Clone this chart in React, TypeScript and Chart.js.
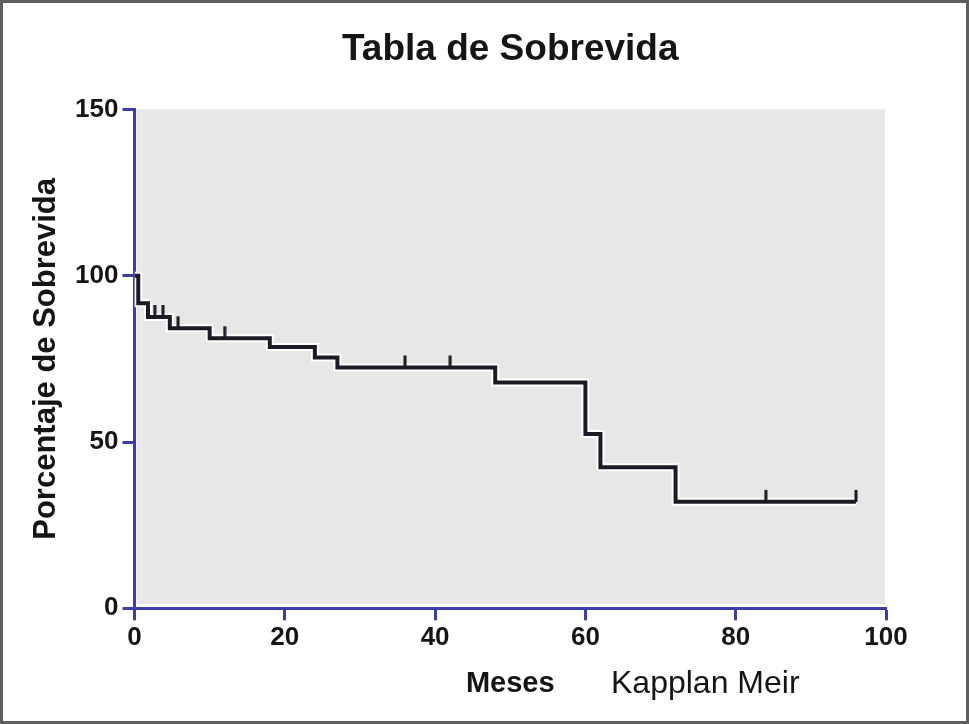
import React, { useEffect, useRef } from 'react';
import { Chart, registerables } from 'chart.js';

Chart.register(...registerables);

// ---- Data ----
const months = [0, 0.5, 1.8, 4.7, 10, 18, 24, 27, 48, 60, 62, 72, 96];
const survival = [100, 91.7, 87.6, 84.2, 81.2, 78.6, 75.4, 72.4, 67.9, 52.4, 42.4, 32.0, 32.0];
const censorMonths = [2.7, 3.8, 5.8, 12, 36, 42, 84, 96];
const censorSurvival = [87.6, 87.6, 84.2, 81.2, 72.4, 72.4, 32.0, 32.0];
const xTickValues = [0, 20, 40, 60, 80, 100];
const yTickValues = [0, 50, 100, 150];

const chartTitle = 'Tabla de Sobrevida';
const yTitle = 'Porcentaje de Sobrevida';
const xTitle = 'Meses';
const noteText = 'Kapplan Meir';

const LINE_COLOR = '#1b1b27';
const AXIS_COLOR = '#3c3cac';
const BG_COLOR = '#e7e7e7';
const TEXT_COLOR = '#151515';
const FONT = '"Liberation Sans", Arial, sans-serif';

function makeCensorMark(): HTMLCanvasElement {
  const c = document.createElement('canvas');
  c.width = 4;
  c.height = 26;
  const g = c.getContext('2d')!;
  g.fillStyle = LINE_COLOR;
  g.fillRect(0.5, 1, 3, 12);
  return c;
}

const plotBackground = {
  id: 'plotBackground',
  beforeDraw(chart: any) {
    const { ctx, chartArea } = chart;
    ctx.save();
    ctx.fillStyle = BG_COLOR;
    ctx.fillRect(chartArea.left + 2, chartArea.top, chartArea.right - chartArea.left - 3, chartArea.bottom - chartArea.top - 4);
    ctx.restore();
  },
};

const noteLabel = {
  id: 'noteLabel',
  afterDraw(chart: any) {
    const { ctx } = chart;
    ctx.save();
    ctx.font = `32px ${FONT}`;
    ctx.fillStyle = TEXT_COLOR;
    ctx.textBaseline = 'alphabetic';
    ctx.textAlign = 'left';
    ctx.fillText(noteText, 611, 693);
    ctx.restore();
  },
};

export default function App() {
  const canvasRef = useRef<HTMLCanvasElement | null>(null);

  useEffect(() => {
    if (!canvasRef.current) return;
    const mark = makeCensorMark();
    const stepData = months.map((m, i) => ({ x: m, y: survival[i] }));
    const censorData = censorMonths.map((m, i) => ({ x: m, y: censorSurvival[i] }));

    const chart = new Chart(canvasRef.current, {
      type: 'line',
      data: {
        datasets: [
          {
            label: 'halo',
            data: stepData,
            stepped: 'before',
            borderColor: '#ffffff',
            borderWidth: 8,
            pointRadius: 0,
            fill: false,
            order: 3,
          },
          {
            label: 'Sobrevida',
            data: stepData,
            stepped: 'before',
            borderColor: LINE_COLOR,
            borderWidth: 4,
            pointRadius: 0,
            fill: false,
            order: 2,
          },
          {
            label: 'Censurados',
            type: 'scatter',
            data: censorData,
            pointStyle: mark as any,
            pointRadius: 6,
            showLine: false,
            order: 1,
          } as any,
        ],
      },
      options: {
        responsive: false,
        animation: false,
        events: [],
        layout: { padding: { left: 0, right: 83, top: 0, bottom: 0 } },
        plugins: {
          legend: { display: false },
          tooltip: { enabled: false },
          title: {
            display: true,
            text: chartTitle,
            fullSize: false,
            color: TEXT_COLOR,
            font: { family: FONT, size: 37, weight: 'bold', lineHeight: 1.2 },
            padding: { top: 28, bottom: 37 },
          },
        },
        scales: {
          x: {
            type: 'linear',
            min: 0,
            max: 100,
            afterBuildTicks(scale: any) {
              scale.ticks = xTickValues.map((v) => ({ value: v }));
            },
            afterFit(scale: any) {
              scale.height = 115.7;
              scale.paddingLeft = 0;
              scale.paddingRight = 0;
            },
            border: { display: true, color: AXIS_COLOR, width: 3 },
            grid: {
              drawOnChartArea: false,
              drawTicks: true,
              tickLength: 12,
              tickWidth: 3,
              tickColor: AXIS_COLOR,
              color: AXIS_COLOR,
            },
            ticks: {
              color: TEXT_COLOR,
              padding: 2,
              maxRotation: 0,
              font: { family: FONT, size: 26, weight: 'bold' },
            },
            title: {
              display: true,
              text: xTitle,
              color: TEXT_COLOR,
              font: { family: FONT, size: 29, weight: 'bold', lineHeight: 1.2 },
              padding: { top: 0, bottom: 23 },
            },
          },
          y: {
            type: 'linear',
            min: 0,
            max: 150,
            afterBuildTicks(scale: any) {
              scale.ticks = yTickValues.map((v) => ({ value: v }));
            },
            afterFit(scale: any) {
              scale.width = 134.5;
              scale.paddingTop = 0;
              scale.paddingBottom = 0;
            },
            border: { display: true, color: AXIS_COLOR, width: 3 },
            grid: {
              drawOnChartArea: false,
              drawTicks: true,
              tickLength: 12,
              tickWidth: 3,
              tickColor: AXIS_COLOR,
              color: AXIS_COLOR,
            },
            ticks: {
              color: TEXT_COLOR,
              padding: 4,
              font: { family: FONT, size: 26, weight: 'bold' },
            },
            title: {
              display: true,
              text: yTitle,
              color: TEXT_COLOR,
              font: { family: FONT, size: 31, weight: 'bold', lineHeight: 1.2 },
              padding: { top: 28, bottom: 0 },
            },
          },
        },
      },
      plugins: [plotBackground, noteLabel],
    } as any);

    return () => chart.destroy();
  }, []);

  return (
    <div style={{ position: 'fixed', left: 0, top: 0, width: 969, height: 724, background: '#ffffff' }}>
      <canvas ref={canvasRef} width={969} height={724} style={{ position: 'absolute', left: 0, top: 0, width: 969, height: 724 }} />
      <div
        style={{
          position: 'absolute',
          left: 0,
          top: 0,
          width: 969,
          height: 724,
          boxSizing: 'border-box',
          border: '3px solid #5e5e5e',
          pointerEvents: 'none',
        }}
      />
    </div>
  );
}
